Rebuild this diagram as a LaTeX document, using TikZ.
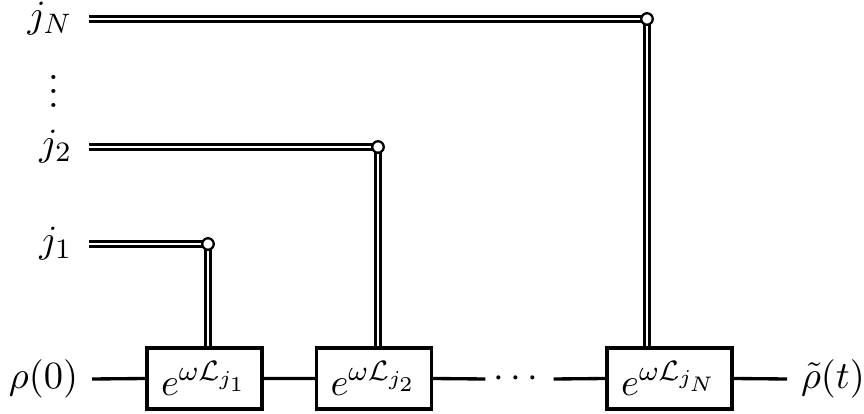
\documentclass[tikz,border=0pt,11pt]{standalone}
\usepackage{amsmath,amssymb}
\usetikzlibrary{calc}
\tikzset{
	gate/.style={draw,line width=.95pt,fill=white,minimum height=.61cm,inner xsep=.14cm,inner ysep=0},
	wire/.style={line width=.95pt},
	cwire/.style={line width=.7pt,double,double distance=.8pt},
	ctrl/.style={draw,circle,line width=.65pt,fill=white,minimum size=.115cm,inner sep=0},
	lbl/.style={inner xsep=.17cm,inner ysep=0,outer sep=0,anchor=east},
}
\begin{document}
\begin{tikzpicture}
	\useasboundingbox (0,0) rectangle (8.64,4.13);
	\node[gate] (g1) at (2.045,.345) {$e^{\omega\mathcal{L}_{j_1}}$};
	\node[gate] (g2) at (3.74,.345) {$e^{\omega\mathcal{L}_{j_2}}$};
	\node[gate] (gN) at (6.695,.345) {$e^{\omega\mathcal{L}_{j_N}}$};
	\node[lbl,inner xsep=.14cm] (in) at (.92,.34) {$\rho(0)$};
	\node[anchor=west,inner xsep=.14cm,outer sep=0] (out) at (7.87,.34) {$\tilde{\rho}(t)$};
	\node[inner sep=0,minimum width=.67cm] (dots) at (5.195,.34) {$\cdots$};
	\node[lbl] (j1) at (.89,1.69) {$j_1$};
	\node[lbl] (j2) at (.89,2.66) {$j_2$};
	\node[lbl] (jN) at (.89,3.94) {$j_N$};
	\node[inner sep=0] (vd) at (.54,3.32) {$\vdots$};
	\coordinate (c1) at (2.08,1.69);
	\coordinate (c2) at (3.78,2.66);
	\coordinate (cN) at (6.47,3.94);
	\draw[wire] (in.east)--(g1.west) (g1.east)--(g2.west) (g2.east)--(dots.west) (dots.east)--(gN.west) (gN.east)--(out.west);
	\draw[cwire] (j1.east)--(c1) (c1)--(c1|-g1.north);
	\draw[cwire] (j2.east)--(c2) (c2)--(c2|-g2.north);
	\draw[cwire] (jN.east)--(cN) (cN)--(cN|-gN.north);
	\node[ctrl] (d1) at (c1) {};
	\node[ctrl] (d2) at (c2) {};
	\node[ctrl] (dN) at (cN) {};
\end{tikzpicture}
\end{document}
